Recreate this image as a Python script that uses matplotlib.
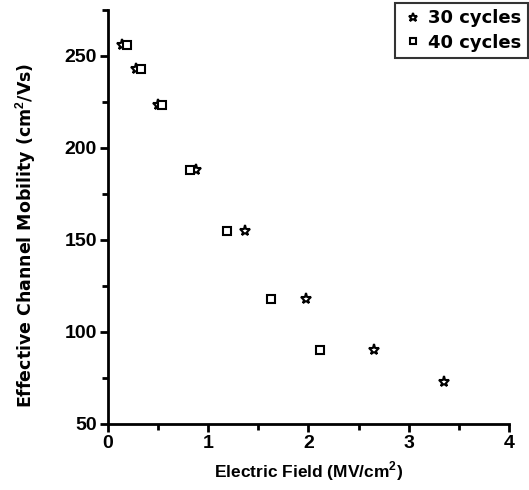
import matplotlib
matplotlib.use("Agg")
import matplotlib.pyplot as plt
from matplotlib.ticker import MultipleLocator

# 30 cycles (stars)
field_30 = [0.14, 0.28, 0.50, 0.88, 1.37, 1.98, 2.65, 3.35]
mob_30 = [256, 243, 223, 188, 155, 118, 90, 73]
# 40 cycles (squares)
field_40 = [0.19, 0.33, 0.54, 0.82, 1.19, 1.63, 2.12]
mob_40 = [256, 243, 223, 188, 155, 118, 90]

plt.rcParams["font.family"] = ["Liberation Sans", "DejaVu Sans"]
plt.rcParams["font.weight"] = "bold"
plt.rcParams["mathtext.fontset"] = "custom"
plt.rcParams["mathtext.bf"] = "Liberation Sans:bold"

fig = plt.figure(figsize=(5.29, 4.90), dpi=100)
ax = fig.add_axes([0.204, 0.135, 0.758, 0.845])

ax.plot(field_30, mob_30, linestyle="none", marker="*", markersize=8,
        markerfacecolor="white", markeredgecolor="black", markeredgewidth=1.5,
        label="30 cycles")
ax.plot(field_40, mob_40, linestyle="none", marker="s", markersize=6,
        markerfacecolor="white", markeredgecolor="black", markeredgewidth=1.5,
        label="40 cycles")

ax.set_xlim(0, 4)
ax.set_ylim(50, 275)
ax.xaxis.set_major_locator(MultipleLocator(1))
ax.xaxis.set_minor_locator(MultipleLocator(0.5))
ax.yaxis.set_major_locator(MultipleLocator(50))
ax.yaxis.set_minor_locator(MultipleLocator(25))

for s in ("top", "right"):
    ax.spines[s].set_visible(False)
for s in ("left", "bottom"):
    ax.spines[s].set_linewidth(2)

ax.tick_params(which="major", direction="out", length=6, width=2,
               labelsize=14, pad=2)
ax.tick_params(which="minor", direction="out", length=4, width=2)
ax.tick_params(top=False, right=False)
for lab in ax.get_xticklabels() + ax.get_yticklabels():
    lab.set_fontweight("bold")

ax.set_xlabel("Electric Field (MV/cm$^\\mathbf{2}$)", fontsize=12.5,
              fontweight="bold")
ax.xaxis.set_label_coords(0.5, -0.085)
ax.set_ylabel("Effective Channel Mobility (cm$^\\mathbf{2}$/Vs)", fontsize=12.5,
              fontweight="bold", family=["DejaVu Sans"])
ax.yaxis.set_label_coords(-0.175, 0.455)

leg = ax.legend(loc="upper right", bbox_to_anchor=(0.998, 0.994),
                bbox_transform=fig.transFigure, frameon=True,
                prop={"family": "DejaVu Sans", "weight": "bold", "size": 13},
                fancybox=False, edgecolor="black", handletextpad=0.2,
                borderpad=0.35, labelspacing=0.35, handlelength=1.3,
                borderaxespad=0, markerscale=0.8)
leg.get_frame().set_linewidth(1.5)

fig.savefig("out.png", dpi=100)
